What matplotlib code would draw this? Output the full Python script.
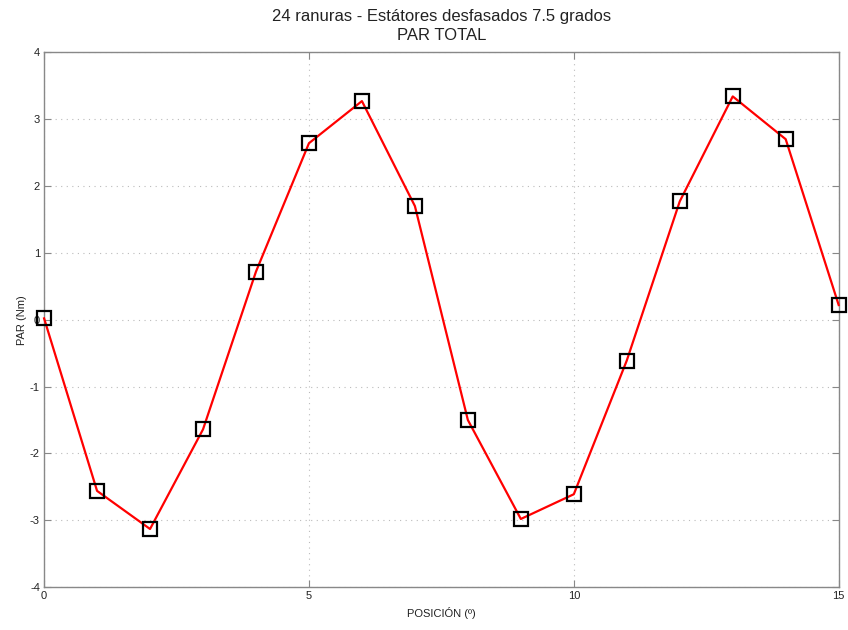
import matplotlib
matplotlib.use("Agg")
import matplotlib.pyplot as plt

plt.rcParams['font.family'] = ['Liberation Sans', 'DejaVu Sans']
plt.rcParams['axes.unicode_minus'] = False

posicion = [0, 1, 2, 3, 4, 5, 6, 7, 8, 9, 10, 11, 12, 13, 14, 15]
par = [0.02, -2.56, -3.13, -1.64, 0.72, 2.64, 3.27, 1.70,
       -1.50, -2.98, -2.61, -0.61, 1.77, 3.34, 2.70, 0.22]

fig = plt.figure(figsize=(8.48, 6.3), dpi=100)
ax = fig.add_axes([0.052, 0.068, 0.937, 0.849])

ax.plot(posicion, par, color='red', lw=1.6, zorder=3, clip_on=False)
ax.plot(posicion, par, ls='none', marker='s', ms=9.5, mfc='none',
        mec='black', mew=1.6, zorder=4, clip_on=False)

ax.set_xlim(0, 15)
ax.set_ylim(-4, 4)
ax.set_xticks([0, 5, 10, 15])
ax.set_yticks(range(-4, 5))
ax.grid(True, ls=(0, (1, 4)), color='#bbbbbb', lw=0.8)
for s in ax.spines.values():
    s.set_color('#888888')
    s.set_linewidth(1.0)
ax.tick_params(direction='in', top=True, right=True, length=5,
               color='#888888', labelsize=8, pad=3, labelcolor='#222222')

ax.set_xlabel('POSICIÓN (º)', fontsize=8, labelpad=4, color='#222222')
ax.set_ylabel('PAR (Nm)', fontsize=8, labelpad=2, color='#222222')
ax.set_title('24 ranuras - Estátores desfasados 7.5 grados\nPAR TOTAL',
             fontsize=12, pad=9, linespacing=1.35, color='#222222')

fig.savefig('out.png', dpi=100)
